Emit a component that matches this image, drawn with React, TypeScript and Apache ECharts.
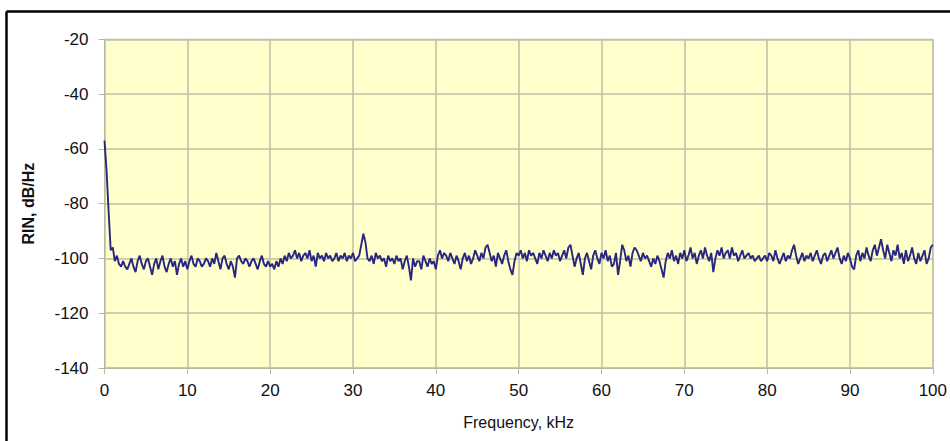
import React, { useEffect, useRef } from "react";
import * as echarts from "echarts";

const FREQ_STEP_KHZ = 0.25;
const xTicks = [0, 10, 20, 30, 40, 50, 60, 70, 80, 90, 100];
const yTicks = [-140, -120, -100, -80, -60, -40, -20];

const rin0to10 = [
  -57, -68, -83, -97, -96, -101, -99, -102, -103, -101,
  -103, -104, -102, -100, -103, -105, -101, -99, -102, -104,
  -101, -100, -103, -106, -102, -100, -104, -101, -99, -103,
  -105, -102, -100, -103, -101, -106, -102, -100, -103, -101,
];
const rin10to20 = [
  -104, -101, -99, -102, -103, -100, -101, -103, -102, -100,
  -101, -103, -100, -102, -98, -101, -104, -100, -99, -102,
  -104, -101, -103, -107, -100, -99, -101, -102, -100, -101,
  -103, -101, -100, -102, -104, -101, -99, -102, -103, -101,
];
const rin20to30 = [
  -103, -102, -104, -101, -103, -100, -102, -99, -101, -98,
  -100, -99, -97, -100, -98, -101, -99, -98, -100, -97,
  -101, -99, -103, -98, -100, -99, -101, -98, -100, -99,
  -101, -100, -98, -101, -99, -100, -98, -101, -99, -100,
];
const rin30to40 = [
  -98, -101, -100, -99, -95, -91, -94, -100, -101, -99,
  -102, -98, -100, -99, -101, -100, -103, -99, -101, -100,
  -102, -99, -101, -100, -104, -101, -99, -103, -108, -100,
  -103, -101, -101, -104, -99, -101, -103, -100, -102, -101,
];
const rin40to50 = [
  -104, -99, -97, -100, -98, -99, -101, -98, -100, -102,
  -99, -101, -104, -100, -98, -101, -99, -102, -100, -97,
  -99, -101, -98, -100, -96, -95, -98, -101, -99, -103,
  -98, -100, -102, -99, -97, -101, -104, -106, -101, -98,
];
const rin50to60 = [
  -99, -97, -100, -98, -101, -97, -99, -98, -100, -102,
  -98, -100, -97, -99, -101, -98, -100, -97, -99, -98,
  -101, -99, -97, -100, -96, -95, -99, -103, -100, -98,
  -102, -106, -100, -98, -101, -104, -99, -97, -100, -102,
];
const rin60to70 = [
  -98, -100, -97, -101, -99, -103, -102, -98, -106, -101,
  -95, -97, -101, -99, -103, -98, -96, -97, -99, -101,
  -98, -100, -99, -101, -103, -100, -102, -99, -101, -104,
  -107, -101, -98, -100, -97, -101, -99, -102, -98, -100,
];
const rin70to80 = [
  -97, -101, -99, -96, -100, -98, -102, -99, -97, -100,
  -96, -99, -101, -98, -105, -100, -97, -99, -96, -100,
  -98, -97, -100, -96, -99, -98, -101, -99, -97, -100,
  -99, -98, -100, -99, -101, -100, -99, -101, -100, -99,
];
const rin80to90 = [
  -101, -98, -99, -101, -97, -100, -102, -100, -98, -101,
  -99, -100, -97, -95, -99, -102, -100, -98, -101, -99,
  -100, -98, -101, -99, -97, -100, -102, -99, -98, -101,
  -99, -97, -100, -98, -96, -100, -102, -99, -101, -98,
];
const rin90to100 = [
  -100, -103, -104, -99, -97, -101, -98, -100, -96, -99,
  -101, -97, -95, -99, -96, -93, -97, -100, -95, -98,
  -101, -97, -99, -95, -100, -98, -102, -97, -101, -99,
  -96, -100, -102, -98, -101, -99, -97, -102, -100, -96,
  -95,
];

const rinValues = [
  ...rin0to10, ...rin10to20, ...rin20to30, ...rin30to40, ...rin40to50,
  ...rin50to60, ...rin60to70, ...rin70to80, ...rin80to90, ...rin90to100,
];

const FONT = "'Liberation Sans', Arial, Helvetica, sans-serif";

export default function App() {
  const ref = useRef<HTMLDivElement>(null);
  useEffect(() => {
    if (!ref.current) return;
    const chart = echarts.init(ref.current, undefined, { renderer: "svg" });
    const data = rinValues.map((v, i) => [i * FREQ_STEP_KHZ, v]);
    chart.setOption({
      animation: false,
      backgroundColor: "#ffffff",
      textStyle: { fontFamily: FONT },
      grid: {
        left: 104.5,
        right: 13.3,
        top: 39.3,
        bottom: 73,
        show: true,
        backgroundColor: "#FFFFCC",
        borderColor: "#B8B8A2",
        borderWidth: 1,
      },
      graphic: [
        { type: "line", shape: { x1: 5, y1: 0, x2: 5, y2: 441 }, style: { stroke: "#000", lineWidth: 2.5 }, left: 4, top: 9 },
        { type: "line", shape: { x1: 0, y1: 0, x2: 950, y2: 0 }, style: { stroke: "#000", lineWidth: 2.5 }, left: 4, top: 9 },
      ],
      xAxis: {
        type: "value",
        min: xTicks[0],
        max: xTicks[xTicks.length - 1],
        interval: 10,
        name: "Frequency, kHz",
        nameLocation: "middle",
        nameGap: 46,
        nameTextStyle: { fontSize: 16, color: "#111", fontFamily: FONT },
        axisLine: { show: true, lineStyle: { color: "#B8B8A2", width: 1 } },
        axisTick: { show: true, length: 6, lineStyle: { color: "#B8B8A2" } },
        axisLabel: { fontSize: 17, color: "#111", margin: 14, fontFamily: FONT },
        splitLine: { show: true, lineStyle: { color: "#BFBFA6", width: 1.5 } },
      },
      yAxis: {
        type: "value",
        min: yTicks[0],
        max: yTicks[yTicks.length - 1],
        interval: 20,
        name: "RIN, dB/Hz",
        nameLocation: "middle",
        nameGap: 68,
        nameRotate: 90,
        nameTextStyle: { fontSize: 16, fontWeight: "bold", color: "#111", fontFamily: FONT },
        axisLine: { show: true, lineStyle: { color: "#B8B8A2", width: 1 } },
        axisTick: { show: true, length: 6, lineStyle: { color: "#B8B8A2" } },
        axisLabel: { fontSize: 17, color: "#111", margin: 16, fontFamily: FONT },
        splitLine: { show: true, lineStyle: { color: "#BFBFA6", width: 1.5 } },
      },
      series: [
        {
          type: "line",
          data,
          showSymbol: false,
          symbol: "none",
          lineStyle: { color: "#28267E", width: 1.9 },
          clip: true,
        },
      ],
    });
    return () => chart.dispose();
  }, []);
  return (
    <div
      ref={ref}
      style={{ position: "absolute", left: 0, top: 0, width: 950, height: 441 }}
    />
  );
}
